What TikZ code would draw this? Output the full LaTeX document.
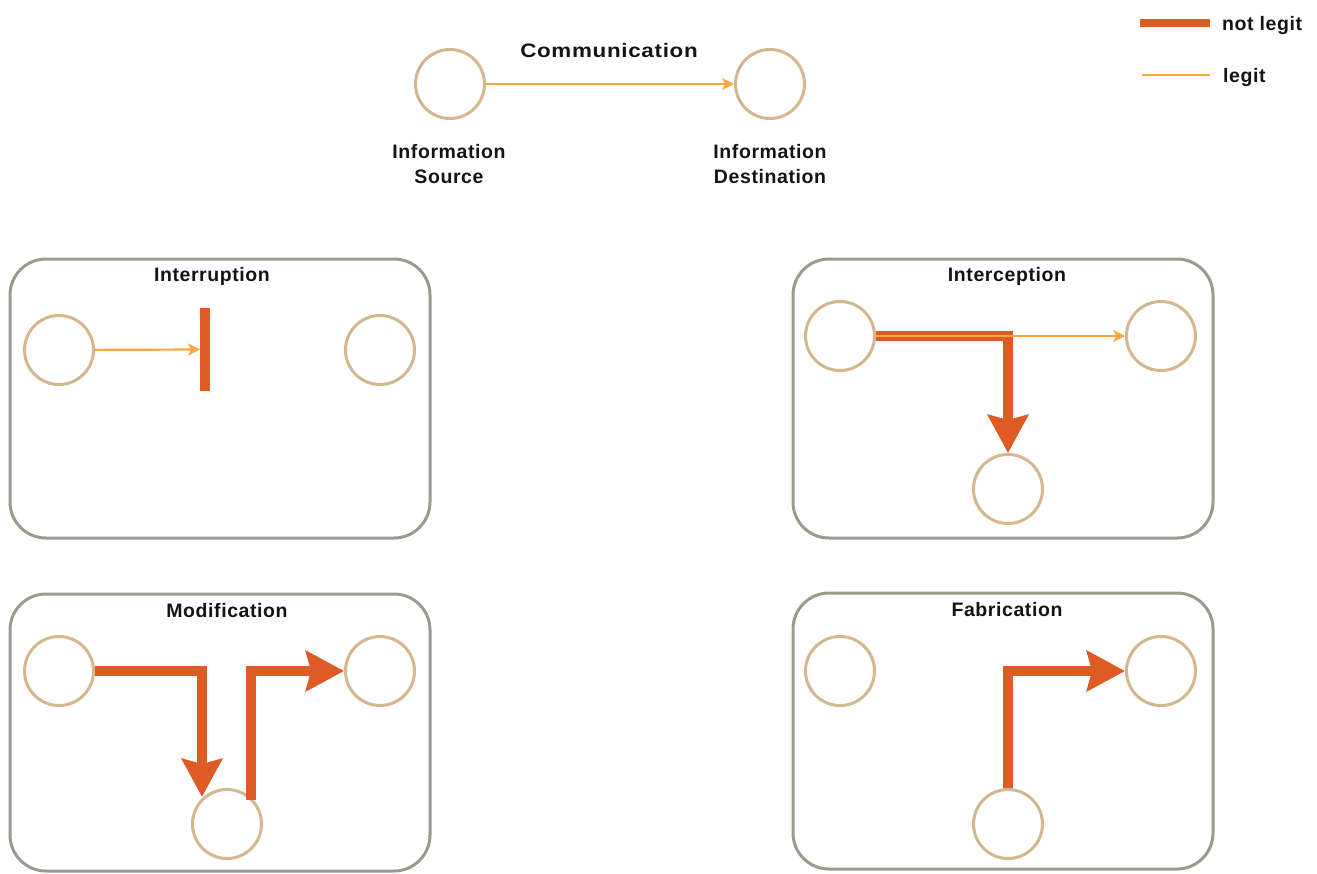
\documentclass[tikz,border=0pt]{standalone}
\usepackage{fontspec}
\setmainfont{Liberation Sans}[LetterSpace=3]
\usetikzlibrary{arrows.meta}
\definecolor{tan}{HTML}{D2B78F}
\definecolor{legitc}{HTML}{FBA63C}
\definecolor{badc}{HTML}{DF5B25}
\definecolor{boxc}{HTML}{9A9B8D}
\definecolor{txt}{HTML}{141414}
\begin{document}
\begin{tikzpicture}[x=1pt,y=-1pt,
  party/.style={circle,draw=tan,line width=3pt,minimum size=69pt,inner sep=0pt},
  frame/.style={draw=boxc,line width=3pt,rounded corners=36pt},
  lbl/.style={font=\fontsize{19.5}{25}\selectfont\bfseries,text=txt,inner sep=0pt,align=center},
  legit/.style={draw=legitc,line width=2.2pt,-{Stealth[length=12pt,width=12pt,inset=3.5pt]}},
  legitline/.style={draw=legitc,line width=2.2pt},
  bad/.style={draw=badc,line width=9.5pt,line join=miter,-{Stealth[length=38pt,width=40pt,inset=5pt]}},
  badline/.style={draw=badc,line width=9.5pt,line join=miter}]
\useasboundingbox (0,0) rectangle (1317,873);
% legend
\coordinate (l1a) at (1140,23); \coordinate (l1b) at (1210,23);
\coordinate (l2a) at (1142,75); \coordinate (l2b) at (1210,75);
\draw[badc,line width=8pt] (l1a) -- (l1b);
\draw[legitline] (l2a) -- (l2b);
\node[lbl,anchor=west] (tnl) at (1222,25) {not legit};
\node[lbl,anchor=west] (tl) at (1223,77) {legit};
% communication
\node[party] (src) at (450,84) {};
\node[party] (dst) at (770,84) {};
\node[lbl] (tcom) at (609,51) {\scalebox{1.15}[1]{Communication}};
\node[lbl] (tsrc) at (449,164) {Information\\Source};
\node[lbl] (tdst) at (770,164) {Information\\Destination};
\draw[legit] (src) -- (dst);
% Interruption
\draw[frame] (10,259) rectangle (430,538);
\node[lbl] (t1) at (212,276) {Interruption};
\node[party] (a1) at (59,350) {};
\node[party] (b1) at (380,350) {};
\node[fill=badc,minimum width=10pt,minimum height=83pt,inner sep=0pt] (bar) at (205,349.5) {};
\draw[legit] (a1) -- (bar.west);
% Interception
\draw[frame] (793,259) rectangle (1213,538);
\node[lbl] (t2) at (1007,276) {Interception};
\node[party] (a2) at (840,336) {};
\node[party] (b2) at (1161,336) {};
\node[party] (c2) at (1008,489) {};
\draw[bad] (a2.east) -- (1008,336) -- (c2.north);
\draw[legit] (a2) -- (b2);
% Modification
\draw[frame] (10,594) rectangle (430,871);
\node[lbl] (t3) at (227,611) {Modification};
\node[party] (a3) at (59,671) {};
\node[party] (b3) at (380,671) {};
\node[party] (c3) at (227,824) {};
\draw[bad] (a3.east) -- (202,671) -- (202,797);
\draw[bad] (251,800) -- (251,671) -- (b3.west);
% Fabrication
\draw[frame] (793,593) rectangle (1213,869);
\node[lbl] (t4) at (1007,610) {Fabrication};
\node[party] (a4) at (840,671) {};
\node[party] (b4) at (1161,671) {};
\node[party] (c4) at (1008,824) {};
\draw[bad] (c4.north) -- (1008,671) -- (b4.west);
\end{tikzpicture}
\end{document}
